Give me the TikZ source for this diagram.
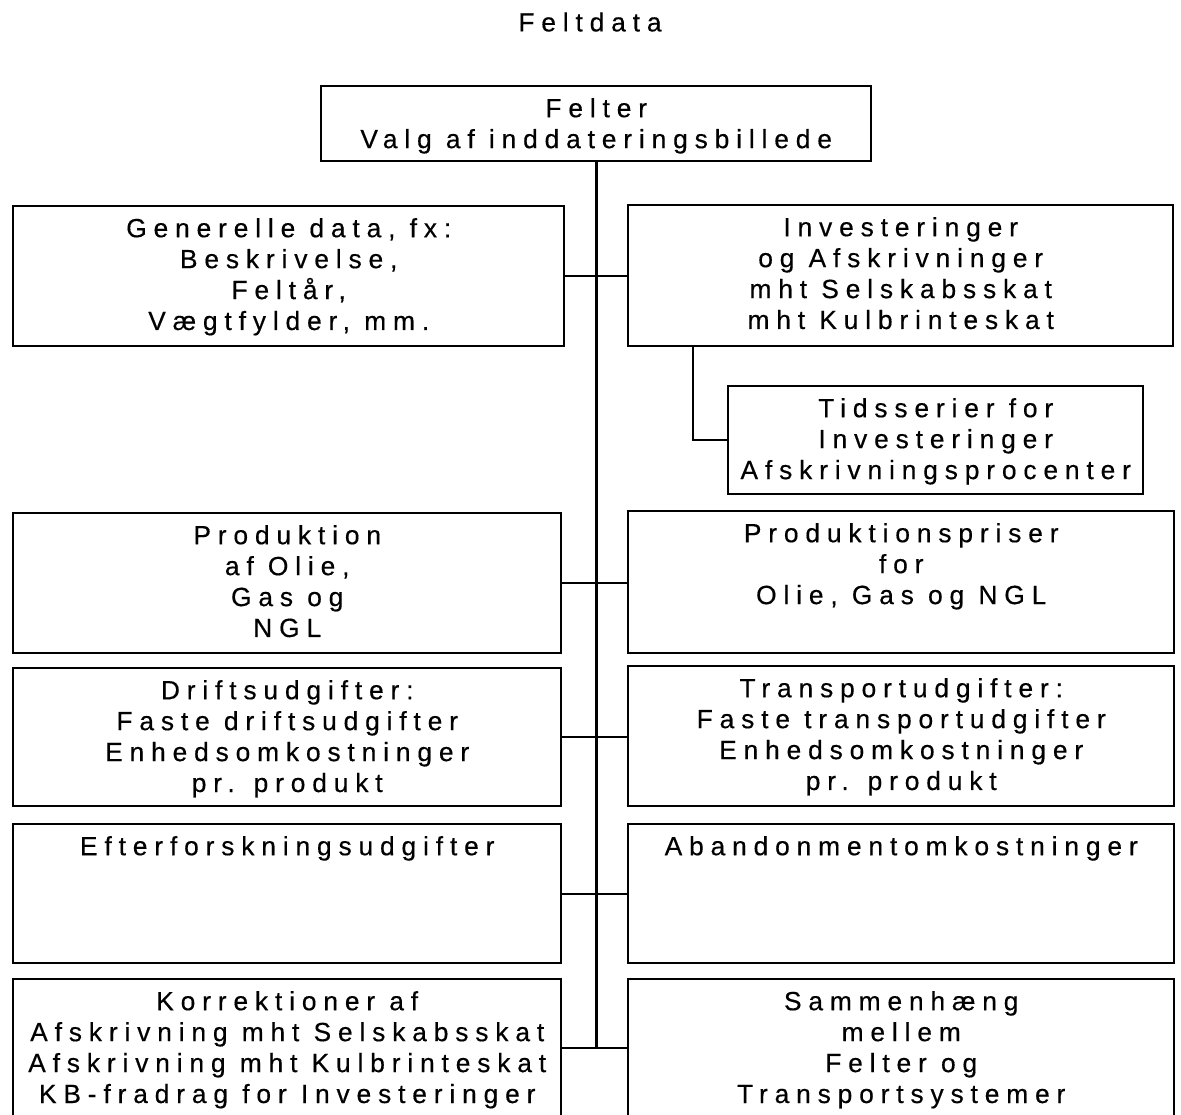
\documentclass[tikz,border=0pt]{standalone}
\usepackage{fontspec}
\setmainfont{Liberation Sans}[LetterSpace=26,FakeBold=0.4]
\newlength\pxu
\setlength\pxu{0.02cm}
\newcommand\felt[3]{\parbox[t][#2\pxu][t]{#1\pxu}{\centering\rule{0pt}{31\pxu}#3}}
\tikzset{
	box/.style={draw,rectangle,line width=1.4pt,inner sep=0pt,anchor=north west},
	trunk/.style={line width=1.7pt},
	link/.style={line width=0.9pt}
}
\begin{document}
\begin{tikzpicture}[x=0.02cm,y=-0.02cm,font=\fontsize{15}{17.6}\selectfont]
            \useasboundingbox (0,0) rectangle (1181,1115);
            \node (tit) at (590,22) {Feltdata};
            \node[box] (fel) at (320,85) {\felt{550}{75}{Felter\\Valg af inddateringsbillede}};
            \node[box] (gen) at (12,205) {\felt{551}{140}{Generelle data, fx:\\Beskrivelse,\\Feltår,\\Vægtfylder, mm.}};
            \node[box] (inv) at (627,204) {\felt{545}{141}{Investeringer\\og Afskrivninger\\mht Selskabsskat\\mht Kulbrinteskat}};
            \node[box] (tid) at (727,385) {\felt{415}{108}{Tidsserier for\\Investeringer\\Afskrivningsprocenter}};
            \node[box] (pro) at (12,512) {\felt{548}{140}{Produktion\\af Olie,\\Gas og\\NGL}};
            \node[box] (pri) at (627,510) {\felt{546}{142}{Produktionspriser\\for\\Olie, Gas og NGL}};
            \node[box] (dri) at (12,667) {\felt{548}{138}{Driftsudgifter:\\Faste driftsudgifter\\Enhedsomkostninger\\pr. produkt}};
            \node[box] (tra) at (627,665) {\felt{546}{140}{Transportudgifter:\\Faste transportudgifter\\Enhedsomkostninger\\pr. produkt}};
            \node[box] (eft) at (12,823) {\felt{548}{139}{Efterforskningsudgifter}};
            \node[box] (aba) at (627,823) {\felt{546}{139}{Abandonmentomkostninger}};
            \node[box] (kor) at (12,978) {\felt{548}{160}{Korrektioner af\\Afskrivning mht Selskabsskat\\Afskrivning mht Kulbrinteskat\\KB-fradrag for Investeringer}};
            \node[box] (sam) at (627,978) {\felt{546}{160}{Sammenhæng\\mellem\\Felter og\\Transportsystemer}};
            \coordinate (j5) at (595,1048);
            \coordinate (ib) at (693,345);
            \draw[trunk] (fel.south) -- (fel.south |- j5);
            \draw[link] (gen.east) -- (gen.east -| inv.west);
            \draw[link] (pro.east) -- (pro.east -| pri.west);
            \draw[link] (dri.east) -- (dri.east -| tra.west);
            \draw[link] (eft.east) -- (eft.east -| aba.west);
            \draw[link] (kor.east |- j5) -- (sam.west |- j5);
            \draw[link] (ib) |- (tid.west);
        \end{tikzpicture}
\end{document}
